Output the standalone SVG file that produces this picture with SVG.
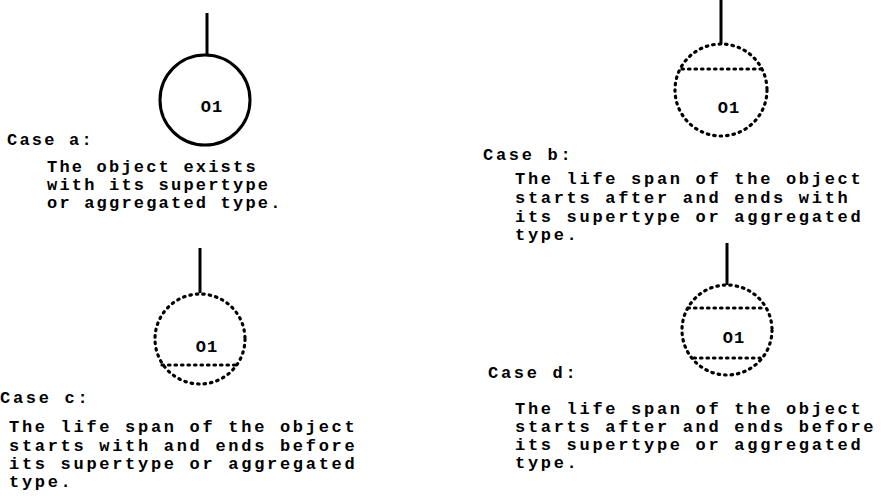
<svg xmlns="http://www.w3.org/2000/svg" width="885" height="500" viewBox="0 0 885 500">
<style>
text{font-family:"Liberation Mono","Courier New",monospace;font-weight:bold;font-size:17px;fill:#000;letter-spacing:2.7px}
.a text{letter-spacing:2.2px}
.solid{fill:none;stroke:#000;stroke-width:3}
.dot{fill:none;stroke:#000;stroke-width:3.2;stroke-dasharray:1.5 5;stroke-linecap:round}
.lbl{text-anchor:middle;letter-spacing:1px}
.conn{stroke:#000;stroke-width:3}
</style>
<rect width="885" height="500" fill="#fff"/>
<g id="connectors">
<line class="conn" x1="207" y1="13" x2="207" y2="55"/>
<line class="conn" x1="721" y1="0" x2="721" y2="44"/>
<line class="conn" x1="200" y1="248" x2="200" y2="293"/>
<line class="conn" x1="727" y1="243" x2="727" y2="285"/>
</g>
<g id="node-a">
<circle class="solid" cx="205" cy="100" r="45"/>
<text class="lbl" x="212" y="112">O1</text>
</g>
<g id="node-b">
<circle class="dot" cx="721" cy="90" r="46"/>
<line class="dot" x1="682" y1="69" x2="761" y2="69"/>
<text class="lbl" x="729" y="113">O1</text>
</g>
<g id="node-c">
<circle class="dot" cx="200" cy="339" r="45"/>
<line class="dot" x1="162" y1="365" x2="240" y2="365"/>
<text class="lbl" x="207" y="352">O1</text>
</g>
<g id="node-d">
<circle class="dot" cx="727" cy="330" r="45"/>
<line class="dot" x1="688" y1="308" x2="763" y2="308"/>
<line class="dot" x1="694" y1="358" x2="760" y2="358"/>
<text class="lbl" x="734" y="343">O1</text>
</g>
<g id="text-a" class="a">
<text x="7" y="145">Case a:</text>
<text x="47" y="172">The object exists</text>
<text x="47" y="190">with its supertype</text>
<text x="47" y="208">or aggregated type.</text>
</g>
<g id="text-b">
<text x="483" y="160">Case b:</text>
<text x="515" y="184">The life span of the object</text>
<text x="515" y="203">starts after and ends with</text>
<text x="515" y="222">its supertype or aggregated</text>
<text x="515" y="240">type.</text>
</g>
<g id="text-c">
<text x="0" y="403">Case c:</text>
<text x="9" y="432">The life span of the object</text>
<text x="9" y="451">starts with and ends before</text>
<text x="9" y="469">its supertype or aggregated</text>
<text x="9" y="487">type.</text>
</g>
<g id="text-d">
<text x="488" y="378">Case d:</text>
<text x="515" y="414">The life span of the object</text>
<text x="515" y="432">starts after and ends before</text>
<text x="515" y="450">its supertype or aggregated</text>
<text x="515" y="468">type.</text>
</g>
</svg>
